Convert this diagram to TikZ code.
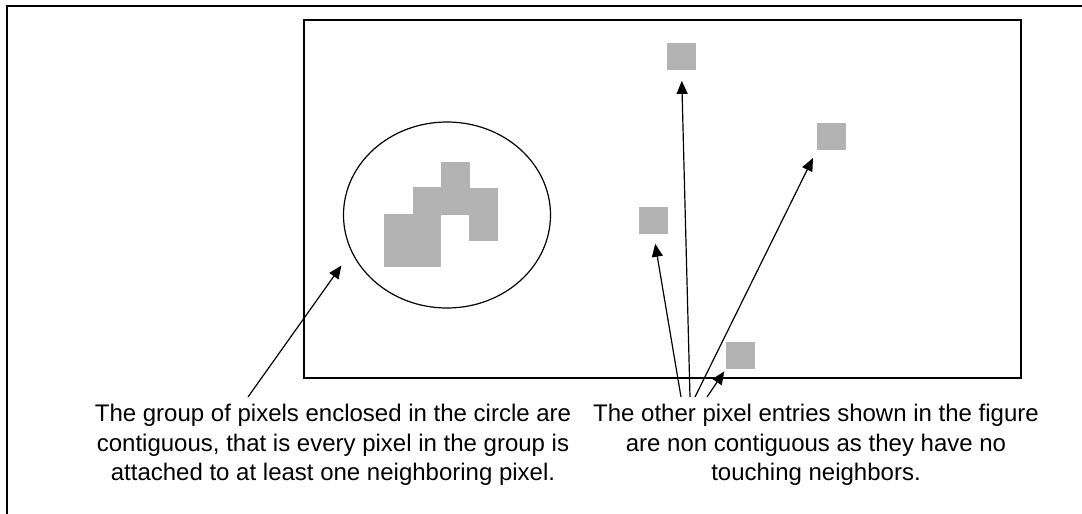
\documentclass[tikz,border=0pt]{standalone}
\usepackage{fontspec}
\setmainfont{Liberation Sans}
\usetikzlibrary{arrows.meta,shapes.geometric}
\definecolor{pixgray}{HTML}{B3B3B3}
\tikzset{
  frame/.style={line width=2pt},
  pix/.style={rectangle,fill=pixgray,inner sep=0pt,minimum width=28.6pt,minimum height=26.5pt,anchor=north west},
  ptr/.style={line width=1.2pt,-{Triangle[length=13pt,width=11pt]}},
  caption/.style={align=center,inner sep=0pt,anchor=north,font=\fontsize{24}{29.5}\selectfont}
}
\begin{document}
\begin{tikzpicture}[x=1pt,y=-1pt]
\useasboundingbox (0,0) rectangle (1082,514);
% outer frame (cropped)
\draw[frame] (7,514) -- (7,6) -- (1082,6);
% inner picture frame
\draw[frame] (304,20) rectangle (1021,378);
% enclosing ellipse
\node[ellipse,draw,line width=1.2pt,minimum width=207pt,minimum height=186pt,inner sep=0pt] (circ) at (447,215) {};
% contiguous group
\node[pix] (g1) at (384,214) {};
\node[pix] (g2) at (384,240.5) {};
\node[pix] (g3) at (412.5,187) {};
\node[pix] (g4) at (412.5,213.5) {};
\node[pix] (g5) at (412.5,240) {};
\node[pix] (g6) at (441,162) {};
\node[pix] (g7) at (441,188.5) {};
\node[pix] (g8) at (469,188) {};
\node[pix] (g9) at (469,214.5) {};
% isolated pixels
\node[pix] (sa) at (667,43) {};
\node[pix] (sb) at (817,123) {};
\node[pix] (sc) at (639,207) {};
\node[pix] (sd) at (726,342) {};
% captions
\node[caption] (capL) at (333,404) {The group of pixels enclosed in the circle are\\contiguous, that is every pixel in the group is\\attached to at least one neighboring pixel.};
\node[caption] (capR) at (816,404) {The other pixel entries shown in the figure\\are non contiguous as they have no\\touching neighbors.};
% arrow tails
\coordinate (tL) at (248,397);
\coordinate (t1) at (681,397);
\coordinate (t2) at (690,397);
\coordinate (t3) at (695,397);
\coordinate (t4) at (707,397);
% arrows
\draw[ptr,shorten >=17pt] (tL) -- (circ.201);
\draw[ptr,shorten >=10pt] (t1) -- (sc.south);
\draw[ptr,shorten >=11pt] (t2) -- (sa.south);
\draw[ptr,shorten >=9pt] (t3) -- (sb.south west);
\draw[ptr,shorten >=3pt] (t4) -- (sd.south west);
\end{tikzpicture}
\end{document}
